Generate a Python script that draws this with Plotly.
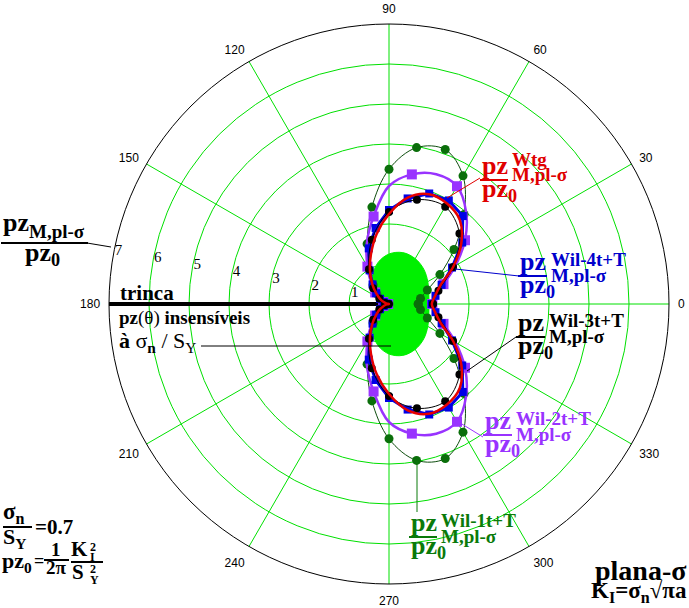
import plotly.graph_objects as go

W, H = 689, 608
SERIF = "Liberation Serif"
SANS = "Liberation Sans"

# ---------------- data (upper half, mirrored about the crack line) ----------------
theta10 = [0, 10, 20, 30, 40, 50, 60, 70, 80, 90, 100, 110, 120, 130, 140, 150, 160, 170, 180]
theta15 = [0, 15, 30, 45, 60, 75, 90, 105, 120, 135, 150, 165, 180]
theta20 = [0, 20, 40, 60, 80, 100, 120, 140, 160, 180]

# green region: pz(theta) insensitive to sigma_n/S_Y
blob_r = [1.00, 1.03, 1.12, 1.23, 1.31, 1.33, 1.25, 1.07, 0.81, 0.52, 0.25, 0.07, 0.0]
# Wil-1t+T (dark green)
wil1_r = [0.73, 0.80, 1.02, 1.47, 2.12, 2.92, 3.70, 4.11, 3.97, 3.37, 2.46, 1.60, 0.98, 0.62, 0.40, 0.25, 0.14, 0.06, 0.0]
# Wil-2t+T (purple line) and its square markers
wil2_r = [1.08, 1.18, 1.45, 1.92, 2.48, 3.00, 3.40, 3.45, 3.29, 2.95, 2.22, 1.62, 1.08, 0.70, 0.45, 0.28, 0.15, 0.06, 0.02]
wil2_mk = [1.08, 1.45, 2.48, 3.40, 3.29, 2.22, 1.08, 0.45, 0.15, 0.02]
# Wil-3t+T (black)
wil3_r = [1.10, 1.28, 1.85, 2.49, 2.81, 2.70, 2.30, 1.66, 1.00, 0.56, 0.28, 0.10, 0.0]
# Wil-4t+T (blue)
wil4_r = [1.07, 1.18, 1.40, 1.82, 2.39, 2.87, 2.99, 2.94, 2.68, 2.35, 1.93, 1.48, 0.97, 0.64, 0.42, 0.26, 0.14, 0.06, 0.02]
# Wtg (red)
wtg_r = [1.07, 1.17, 1.37, 1.85, 2.36, 2.75, 2.90, 2.92, 2.70, 2.25, 1.78, 1.32, 0.95, 0.65, 0.42, 0.26, 0.14, 0.06, 0.0]

crack_r = [0.2, 7]
crack_theta = [180, 180]

ang_ticks = [0, 30, 60, 90, 120, 150, 180, 210, 240, 270, 300, 330]
rad_ticks = [1, 2, 3, 4, 5, 6, 7]


def full(th, r):
    """close the curve using the symmetry about the crack line"""
    t2 = th + [360 - t for t in th[-2::-1]]
    r2 = r + r[-2::-1]
    return t2, r2


GRID = "#00e000"
fig = go.Figure()

t, r = full(theta15, blob_r)
fig.add_trace(go.Scatterpolar(r=r, theta=t, mode="lines", fill="toself",
                              fillcolor="#00f000", line=dict(color="#00f000", width=1, shape="spline")))
fig.add_trace(go.Scatterpolar(r=crack_r, theta=crack_theta, mode="lines",
                              line=dict(color="black", width=4)))
t, r = full(theta10, wil1_r)
fig.add_trace(go.Scatterpolar(r=r, theta=t, mode="lines+markers",
                              line=dict(color="#0d4d0d", width=1, shape="spline"),
                              marker=dict(color="#0a6e0a", size=9)))
t, r = full(theta10, wil2_r)
fig.add_trace(go.Scatterpolar(r=r, theta=t, mode="lines",
                              line=dict(color="#9933ff", width=2.5, shape="spline")))
t, r = full(theta20, wil2_mk)
fig.add_trace(go.Scatterpolar(r=r, theta=t, mode="markers",
                              marker=dict(color="#9933ff", size=10, symbol="square")))
t, r = full(theta10, wil4_r)
fig.add_trace(go.Scatterpolar(r=r, theta=t, mode="lines+markers",
                              line=dict(color="#0000e6", width=3),
                              marker=dict(color="#0000e6", size=8, symbol="square")))
t, r = full(theta15, wil3_r)
fig.add_trace(go.Scatterpolar(r=r, theta=t, mode="lines+markers",
                              line=dict(color="black", width=1, shape="spline"),
                              marker=dict(color="black", size=8)))
t, r = full(theta10, wtg_r)
fig.add_trace(go.Scatterpolar(r=r, theta=t, mode="lines",
                              line=dict(color="#e60000", width=2.5, shape="spline")))

annotations = []
shapes = []


def P(x, y):
    return x / W, 1 - y / H


def T(x, y, s, size=20, color="black", xa="left", ya="middle", family=SERIF):
    xp, yp = P(x, y)
    annotations.append(dict(x=xp, y=yp, xref="paper", yref="paper", text=s, showarrow=False,
                            xanchor=xa, yanchor=ya, borderpad=0,
                            font=dict(family=family, size=size, color=color)))


def L(x0, y0, x1, y1, color="black", width=1):
    a, b = P(x0, y0)
    c, d = P(x1, y1)
    shapes.append(dict(type="line", xref="paper", yref="paper", x0=a, y0=b, x1=c, y1=d,
                       line=dict(color=color, width=width)))


def flabel(xl, ybar, w, color, sup, sub, dsup=-17, dsub=-1):
    T(xl, ybar + 1, "<b>pz</b>", 26, color, "left", "bottom")
    L(xl - 1, ybar, xl + w, ybar, color, 2)
    T(xl, ybar - 7, "<b>pz<sub>0</sub></b>", 26, color, "left", "top")
    T(xl + w + 3, ybar + dsup, "<b>" + sup + "</b>", 19, color, "left", "middle")
    T(xl + w + 3, ybar + dsub, "<b>" + sub + "</b>", 19, color, "left", "middle")


SIG = "σ"
# series labels
flabel(481, 180, 27, "#e00000", "Wtg", "M,pl-" + SIG, -21, -5)
L(480, 178, 447, 198, "#e00000", 1)
flabel(519, 276, 28, "#0000cc", "Wil-4t+T", "M,pl-" + SIG)
L(519, 276, 455, 269, "#0000cc", 1)
flabel(517, 337, 28, "black", "Wil-3t+T", "M,pl-" + SIG)
L(516, 337, 467, 371, "black", 1)
flabel(484, 435, 28, "#9933ff", "Wil-2t+T", "M,pl-" + SIG)
L(483, 437, 457, 421, "#9933ff", 1)
flabel(410, 537, 27, "#0a7a0a", "Wil-1t+T", "M,pl-" + SIG)
L(417, 512, 417, 461, "#0a7a0a", 1)

# radial axis title
T(2, 238, "<b>pz</b>", 26, "black", "left", "bottom")
T(28, 232, "<b>M,pl-" + SIG + "</b>", 19, "black", "left", "middle")
L(1, 243, 88, 243, "black", 2)
T(24, 237, "<b>pz<sub>0</sub></b>", 26, "black", "left", "top")
L(87, 243, 111, 247, "black", 1)

# crack texts
T(119, 293, "<b>trinca</b>", 21)
T(118, 318, "<b>pz</b>(θ) <b>insensíveis</b>", 19)
T(118, 342, "<b>à</b> σ<b><sub>n</sub></b> / S<sub>Y</sub>", 22)
L(201, 346, 391, 346, "black", 1)

# bottom-left formulas
T(2, 528, "<b>σ<sub>n</sub></b>", 23, "black", "left", "bottom")
L(3, 527, 32, 527, "black", 2)
T(2, 523, "<b>S<sub>Y</sub></b>", 22, "black", "left", "top")
T(34, 527, "<b>=0.7</b>", 21)
T(1, 562, "<b>pz<sub>0</sub></b>", 22)
T(33, 561, "<b>=</b>", 18)
T(56, 561, "<b>1</b>", 19, "black", "center", "bottom")
L(44, 560, 69, 560, "black", 2)
T(56, 556, "<b>2π</b>", 19, "black", "center", "top")
T(70, 562, "<b>K</b>", 21, "black", "left", "bottom")
T(89, 547, "<b>2</b>", 12)
T(89, 557, "<b>I</b>", 12)
L(71, 562, 103, 562, "black", 2)
T(71, 559, "<b>S</b>", 21, "black", "left", "top")
T(89, 569, "<b>2</b>", 12)
T(89, 580, "<b>Y</b>", 12)

# bottom-right
T(688, 570, "<b>plana-σ</b>", 28, "black", "right", "middle")
T(688, 592, "<b>K<sub>I</sub>=σ<sub>n</sub>√πa</b>", 23, "black", "right", "middle")

fig.update_layout(
    width=W, height=H, margin=dict(l=0, r=0, t=0, b=0),
    paper_bgcolor="white", showlegend=False,
    annotations=annotations, shapes=shapes,
    polar=dict(
        domain=dict(x=[109 / W, 669 / W], y=[24 / H, 584 / H]),
        bgcolor="white",
        angularaxis=dict(rotation=0, direction="counterclockwise",
                         tickvals=ang_ticks, ticktext=[str(a) for a in ang_ticks],
                         showline=True, linecolor="black", linewidth=1,
                         showgrid=True, gridcolor=GRID, gridwidth=1,
                         ticks="outside", ticklen=6, tickcolor="rgba(255,255,255,0)",
                         tickfont=dict(family=SANS, size=12, color="black")),
        radialaxis=dict(range=[0, 7], tickvals=rad_ticks, ticktext=[str(v) for v in rad_ticks],
                        showline=False, showgrid=True, gridcolor=GRID, gridwidth=1,
                        angle=170, tickangle=170, ticks="",
                        tickfont=dict(family=SERIF, size=15, color="black")),
    ),
)

fig.write_html("out.html")
